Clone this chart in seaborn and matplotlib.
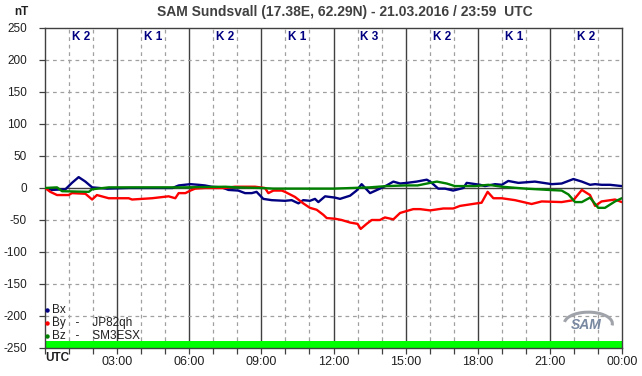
import numpy as np
import pandas as pd
import matplotlib
matplotlib.use("Agg")
import matplotlib.pyplot as plt
from matplotlib.patches import Arc
import seaborn as sns

# ---- data (hours UTC, nT) ----
bx_hours = [0, 0.29, 0.85, 1.12, 1.40, 1.68, 1.96, 2.58, 3.5, 5.3, 5.56, 6.05, 6.38, 6.65, 6.93,
            7.35, 7.63, 8.04, 8.32, 8.6, 8.8, 9.08, 9.43, 9.98, 10.26, 10.54, 10.74, 11.02, 11.23,
            11.37, 11.65, 12.06, 12.27, 12.69, 12.96, 13.17, 13.52, 13.93, 14.21, 14.49, 14.77,
            15.05, 15.46, 15.88, 16.02, 16.36, 16.64, 16.98, 17.40, 17.54, 18.1, 18.30, 18.72,
            19.0, 19.27, 19.69, 20.38, 21.08, 21.49, 21.98, 22.33, 22.67, 22.88, 23.15, 23.50, 23.99]
bx_values = [0, -3, -2, 8, 17, 10, 1, -1, 0, 0, 4, 6, 5, 4, 2,
             1, -3, -4, -8, -8, -6, -17, -19, -20, -19, -24, -19, -20, -17,
             -22, -13, -15, -17, -12, -4, 6, -8, -1, 4, 10, 7,
             8, 10, 13, 10, -1, -1, -4, 0, 8, 5, 3, 6,
             5, 11, 8, 10, 6, 7, 14, 10, 5, 6, 5, 5, 3]

by_hours = [0, 0.22, 0.5, 0.98, 1.12, 1.68, 1.96, 2.16, 2.65, 3.48, 3.62, 4.45, 5.14, 5.42, 5.56,
            5.84, 6.05, 6.24, 6.66, 7.49, 7.9, 8.74, 9.15, 9.29, 9.50, 9.85, 9.98, 10.40, 10.74,
            11.02, 11.30, 11.58, 11.72, 12.06, 12.34, 12.69, 13.0, 13.13, 13.38, 13.59, 13.93,
            14.14, 14.49, 14.77, 15.04, 15.32, 15.60, 16.02, 16.57, 16.98, 17.26, 17.96, 18.16,
            18.41, 18.65, 19.0, 19.55, 20.24, 20.66, 21.49, 21.98, 22.33, 22.67, 22.88, 23.15,
            23.71, 23.99]
by_values = [0, -6, -11, -11, -8, -9, -18, -11, -16, -16, -18, -16, -13, -16, -8,
             -8, -4, -1, 0, 0, 2, 2, 0, -8, -4, -4, -6, -14, -24,
             -31, -34, -42, -47, -48, -50, -54, -56, -64, -56, -50, -50,
             -46, -49, -39, -36, -33, -33, -35, -32, -32, -28, -24, -23,
             -6, -16, -16, -19, -25, -21, -22, -19, -3, -11, -28, -21,
             -18, -22]

bz_hours = [0, 0.50, 0.71, 1.82, 1.96, 2.65, 5.8, 7.5, 8.0, 9.0, 9.5, 12.0, 13.5, 14.21, 15.0,
            15.5, 16.02, 16.3, 16.71, 17.05, 17.9, 18.44, 19.0, 20.0, 20.94, 21.49, 21.77, 22.05,
            22.33, 22.67, 23.01, 23.29, 23.71, 23.99]
bz_values = [0, 1, -5, -6, -2, 1, 1, 2, 1, 0, -1, -1, 1, 3, 4,
             4, 8, 10, 7, 3, 3, 5, 2, -1, -3, -4, -10, -22,
             -22, -15, -31, -31, -21, -16]

k_indices = ["K 2", "K 1", "K 2", "K 1", "K 3", "K 2", "K 1", "K 2"]
x_tick_labels = ["", "03:00", "06:00", "09:00", "12:00", "15:00", "18:00", "21:00", "00:00"]
y_ticks = [-250, -200, -150, -100, -50, 0, 50, 100, 150, 200, 250]

df = pd.concat([
    pd.DataFrame({"h": bx_hours, "v": bx_values, "comp": "Bx"}),
    pd.DataFrame({"h": by_hours, "v": by_values, "comp": "By"}),
    pd.DataFrame({"h": bz_hours, "v": bz_values, "comp": "Bz"}),
], ignore_index=True)

sns.set_theme(style="white")
plt.rcParams["font.family"] = ["Liberation Sans", "DejaVu Sans"]

fig = plt.figure(figsize=(6.42, 3.76), dpi=100)
ax = fig.add_axes([45 / 642, 1 - 348 / 376, 577 / 642, 320 / 376])
ax.set_facecolor("white")

# grid
for h in range(1, 24):
    if h % 3 == 0:
        ax.axvline(h, color="#404040", lw=1.0, zorder=1)
    else:
        ax.axvline(h, color="#a0a0a0", lw=0.9, ls=(0, (3, 3)), zorder=1)
for y in y_ticks[1:-1]:
    if y == 0:
        ax.axhline(0, color="#404040", lw=1.0, zorder=1)
    else:
        ax.axhline(y, color="#a0a0a0", lw=0.9, ls=(0, (3, 3)), zorder=1)

ax.axhspan(-250, -239, color="#00ff00", lw=0, zorder=2)

palette = {"Bx": "#000080", "By": "#ff0000", "Bz": "#008000"}
sns.lineplot(data=df, x="h", y="v", hue="comp", palette=palette, ax=ax,
             linewidth=1.7, legend=False, sort=False, zorder=3)

ax.set_xlim(0, 24)
ax.set_ylim(-250, 250)
ax.set_xticks(range(0, 25, 3))
ax.set_xticklabels(x_tick_labels)
ax.set_xticks(range(0, 25), minor=True)
ax.set_yticks(y_ticks)
ax.set_yticklabels([str(v) for v in y_ticks])
ax.tick_params(axis="both", which="both", direction="out", length=4, width=0.9,
               color="#404040", labelcolor="#202020")
ax.tick_params(axis="y", which="major", left=True, pad=9, labelsize=8.5)
ax.tick_params(axis="x", which="both", bottom=True, pad=1.5, labelsize=9)
ax.set_xlabel("")
ax.set_ylabel("")
for s in ax.spines.values():
    s.set_color("#404040")
    s.set_linewidth(1.0)

# K indices
for i, k in enumerate(k_indices):
    ax.text(1.5 + 3 * i, 236, k, ha="center", va="center", fontsize=8.5,
            fontweight="bold", color="#000080")

# legend
leg_items = [("Bx", "Bx"), ("By", "By   -    JP82qh"), ("Bz", "Bz   -    SM3ESX")]
for j, (c, lab) in enumerate(leg_items):
    y = -190 - j * 21
    ax.plot(0.1, y, marker="o", ms=2.2, color=palette[c], zorder=4, clip_on=False)
    ax.text(0.3, y, lab, ha="left", va="center", fontsize=8.5, color="#202020", zorder=4)

# SAM logo
ax.text(22.5, -214, "SAM", ha="center", va="center", fontsize=10, fontstyle="italic",
        fontweight="bold", color="#7888a0", zorder=4)
ax.add_patch(Arc((22.6, -212), 2.0, 36, theta1=-70, theta2=110, color="#a0a4aa",
                 lw=2.2, zorder=4))

fig.text(345 / 642, 1 - 12 / 376, "SAM Sundsvall (17.38E, 62.29N) - 21.03.2016 / 23:59  UTC",
         ha="center", va="center", fontsize=10, fontweight="bold", color="#404040")
fig.text(21 / 642, 1 - 12 / 376, "nT", ha="center", va="center", fontsize=8.5,
         fontweight="bold", color="#202020")
fig.text(45 / 642, 1 - 358 / 376, "UTC", ha="left", va="center", fontsize=8.5,
         fontweight="bold", color="#202020")

fig.savefig("out.png", dpi=100, facecolor="white")
